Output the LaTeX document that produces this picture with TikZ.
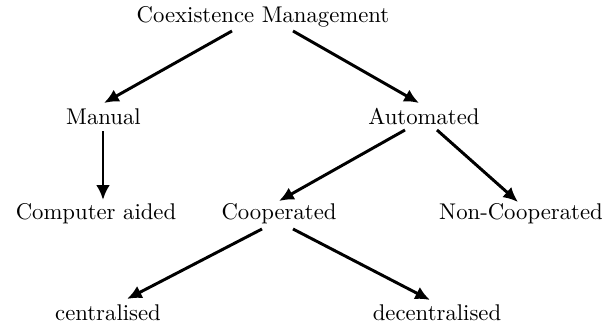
\documentclass[tikz,border=0pt]{standalone}
\usetikzlibrary{arrows.meta,calc}
\begin{document}
\begin{tikzpicture}[x=0.44pt,y=-0.44pt,
  lbl/.style={anchor=base,inner sep=0pt,font=\normalsize},
  arr/.style={line width=1.3pt,-{Latex[length=6.5pt,width=6pt]}}]
\useasboundingbox (0,0) rectangle (611,324);
\node[lbl] (cm) at (263,22) {Coexistence Management};
\node[lbl] (man) at (103.5,124) {Manual};
\node[lbl] (aut) at (424,124) {Automated};
\node[lbl] (ca) at (96,219) {Computer aided};
\node[lbl] (coop) at (279,219) {Cooperated};
\node[lbl] (ncoop) at (521,219) {Non-Cooperated};
\node[lbl] (cen) at (108,320) {centralised};
\node[lbl] (dec) at (437,320) {decentralised};
\draw[arr] ($(cm.base)+(-31,9)$) -- ($(man.base)+(0.5,-21)$);
\draw[arr] ($(cm.base)+(30,9)$) -- ($(aut.base)+(-5,-21)$);
\draw[arr] ($(man.base)+(-0.5,7)$) -- ($(ca.base)+(7,-19)$);
\draw[arr] ($(aut.base)+(-19,6)$) -- ($(coop.base)+(0,-18)$);
\draw[arr] ($(aut.base)+(13,6)$) -- ($(ncoop.base)+(-3,-17)$);
\draw[arr] ($(coop.base)+(-17,10)$) -- ($(cen.base)+(19,-21)$);
\draw[arr] ($(coop.base)+(14,10)$) -- ($(dec.base)+(-7,-20)$);
\end{tikzpicture}
\end{document}
